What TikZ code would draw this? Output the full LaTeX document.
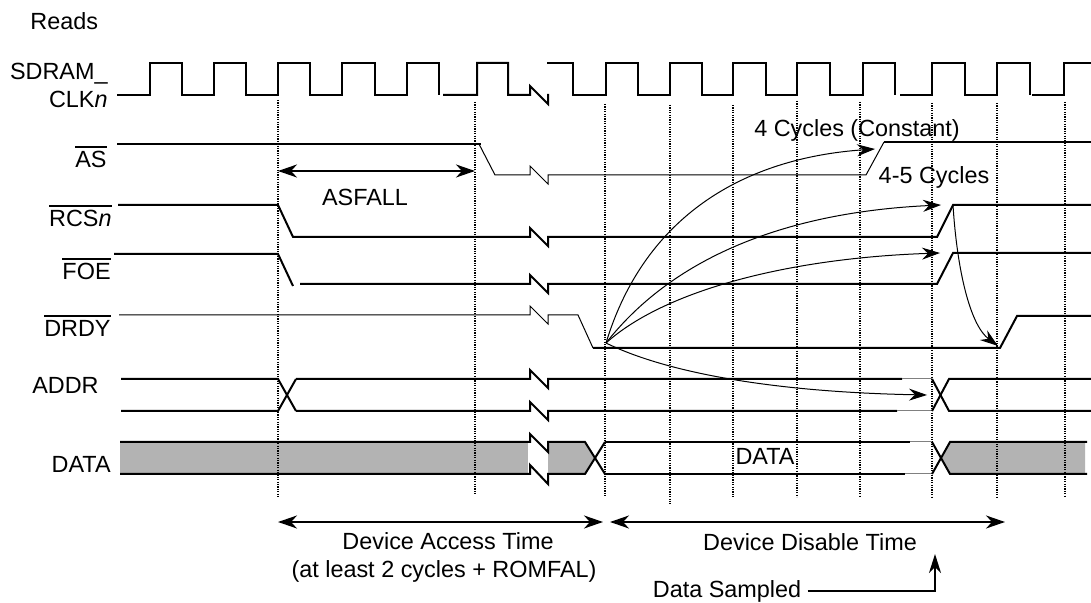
\documentclass[tikz,border=0pt]{standalone}
\usepackage{fontspec}
\setmainfont{Liberation Sans}
\usepackage{xcolor}
\usetikzlibrary{positioning,calc,arrows.meta}
\definecolor{busgray}{RGB}{179,179,179}
\newcommand{\sigbar}[1]{\setbox0=\hbox{#1}\rlap{\rule[\dimexpr\ht0+2pt\relax]{\wd0}{0.7pt}}\box0}

\tikzset{
  sig/.style={line width=1pt},
  thinsig/.style={line width=0.5pt},
  guide/.style={line width=0.7pt, dash pattern=on 0.6pt off 0.6pt},
  delay/.style={line width=0.5pt, -{Stealth[length=9pt,width=6pt,inset=3pt]}},
  timespan/.style={line width=1pt, {Stealth[length=9.5pt,width=6.5pt,inset=3pt]}-{Stealth[length=9.5pt,width=6.5pt,inset=3pt]}},
  lbl/.style={inner sep=0pt, font=\fontsize{11.7}{14}\selectfont},
}

\begin{document}
\begin{tikzpicture}[x=0.5pt,y=-0.5pt]
  \useasboundingbox (0,0) rectangle (1091,603);

  % grey data bus
  \fill[busgray] (120,442) rectangle (528,474);
  \fill[busgray] (548,442) -- (585,442) -- (594,458) -- (585,474) -- (548,474) -- cycle;
  \fill[busgray] (941,458) -- (950,442) -- (1085,442) -- (1085,474) -- (950,474) -- cycle;

  % clock edge markers
  \draw[guide] (278,100) -- (278,498);
  \draw[guide] (475,102) -- (475,494);
  \draw[guide] (605,104) -- (605,497);
  \draw[guide] (670,105) -- (670,504);
  \draw[guide] (733,105) -- (733,497);
  \draw[guide] (797,101) -- (797,497);
  \draw[guide] (860,102) -- (860,497);
  \draw[guide] (932,103) -- (932,497);
  \draw[guide] (997,103) -- (997,497);
  \draw[guide] (1065,102) -- (1065,497);

  % SDRAM_CLKn
  \draw[sig] (117,95) -- (150,95) -- (150,63) -- (182,63) -- (182,95) -- (214,95) -- (214,63) -- (246,63) -- (246,95)
    -- (278,95) -- (278,63) -- (310,63) -- (310,95) -- (342,95) -- (342,63) -- (375,63) -- (375,95) -- (407,95)
    -- (407,63) -- (439,63) -- (439,95);
  \draw[sig] (443,95) -- (477,95) -- (477,63) -- (508,63) -- (508,95) -- (530,95) -- (530,86) -- (548,104) -- (548,94);
  \draw[sig] (547,63) -- (573,63) -- (573,95) -- (606,95) -- (606,63) -- (638,63) -- (638,95) -- (670,95) -- (670,63)
    -- (702,63) -- (702,95) -- (733,95) -- (733,63) -- (766,63) -- (766,95) -- (797,95) -- (797,63) -- (830,63)
    -- (830,95) -- (863,95) -- (863,63) -- (895,63) -- (895,95);
  \draw[sig] (900,95) -- (932,95) -- (932,63) -- (965,63) -- (965,95) -- (997,95) -- (997,63) -- (1030,63) -- (1030,95);
  \draw[sig] (1032,95) -- (1064,95) -- (1064,63) -- (1091,63);

  % AS
  \draw[sig] (117,144) -- (481,144);
  \draw[thinsig] (479,144) -- (495,175) -- (530,175) -- (530,166) -- (548,184) -- (548,175) -- (866,175) -- (884,142);
  \draw[sig] (884,142) -- (1091,142);

  % RCSn
  \draw[sig] (118,205) -- (278,205) -- (293,237) -- (530,237) -- (530,228) -- (548,246) -- (548,237) -- (937,237)
    -- (953,205) -- (1091,205);

  % FOE
  \draw[sig] (114,254) -- (278,254) -- (293,286);
  \draw[sig] (300,284) -- (530,284) -- (530,275) -- (548,293) -- (548,284) -- (937,284) -- (953,253) -- (1091,253);

  % DRDY
  \draw[thinsig] (119,315) -- (530,315) -- (530,306) -- (548,324) -- (548,315) -- (578,315) -- (593,348);
  \draw[sig] (593,348) -- (1000,348) -- (1017,316) -- (1091,316);

  % ADDR
  \draw[sig] (121,379) -- (278,379) -- (296,411);
  \draw[sig] (121,411) -- (278,411) -- (296,379);
  \draw[sig] (296,379) -- (530,379) -- (530,370) -- (548,388) -- (548,379) -- (902,379);
  \draw[sig] (296,411) -- (530,411) -- (530,402) -- (548,420) -- (548,411) -- (897,411);
  \draw[thinsig, gray] (902,379) -- (932,379);
  \draw[thinsig, gray] (897,411) -- (932,411);
  \draw[sig] (932,379) -- (949,411) -- (1091,411);
  \draw[sig] (932,411) -- (949,379) -- (1091,379);

  % DATA
  \draw[sig] (120,442) -- (530,442) -- (530,434) -- (548,452) -- (548,442) -- (585,442) -- (605,474);
  \draw[sig] (120,474) -- (530,474) -- (530,465) -- (548,484) -- (548,474) -- (585,474) -- (605,442);
  \draw[sig] (605,442) -- (910,442);
  \draw[sig] (605,474) -- (905,474);
  \draw[thinsig, gray] (910,442) -- (932,442);
  \draw[thinsig, gray] (905,474) -- (932,474);
  \draw[sig] (932,442) -- (950,474) -- (1087,474);
  \draw[sig] (932,474) -- (950,442) -- (1087,442);

  % signal names
  \node[lbl, anchor=base west] (reads) at (30,30) {Reads};
  \node[lbl, anchor=base east] (clkname) at (108,80) {SDRAM\_};
  \node[lbl, anchor=base east] (clkn) at (108,108) {CLK\textit{n}};
  \node[lbl, anchor=base east] (asname) at (107,168) {\sigbar{AS}};
  \node[lbl, anchor=base east] (rcsname) at (112,227) {\sigbar{RCS\textit{n}}};
  \node[lbl, anchor=base east] (foename) at (111,280) {\sigbar{FOE}};
  \node[lbl, anchor=base east] (drdyname) at (111,337) {\sigbar{DRDY}};
  \node[lbl, anchor=base east] (addrname) at (99,394) {ADDR};
  \node[lbl, anchor=base east] (dataname) at (111,473) {DATA};
  \node[lbl, anchor=base] (datamid) at (765,465) {DATA};

  % ASFALL
  \coordinate (asfall-l) at (278,171);
  \coordinate (asfall-r) at (475,171);
  \draw[timespan] (asfall-l) -- (asfall-r);
  \node[lbl, anchor=base] (asfall) at (365,206) {ASFALL};

  % delays after DRDY
  \coordinate (drdyfall) at (606,343);
  \coordinate (asrise) at (875,149);
  \coordinate (rcsrise) at (941,205);
  \coordinate (foerise) at (940,253);
  \coordinate (addrx) at (927,395);
  \coordinate (rcstop) at (953,205);
  \coordinate (drdyrise) at (998,346);
  \draw[delay] (drdyfall) .. controls (645,215) and (745,158) .. (asrise);
  \draw[delay] (drdyfall) .. controls (675,255) and (790,212) .. (rcsrise);
  \draw[delay] (drdyfall) .. controls (665,290) and (790,258) .. (foerise);
  \draw[delay] (drdyfall) .. controls (665,372) and (770,392) .. (addrx);
  \draw[delay] (rcstop) .. controls (957,270) and (970,325) .. (drdyrise);
  \node[lbl, anchor=base] (fourcyc) at (857,137) {4 Cycles (Constant)};
  \node[lbl, anchor=base] (fivecyc) at (934,184) {4-5 Cycles};

  % access and disable times
  \coordinate (acc-l) at (278,522);
  \coordinate (acc-r) at (603,522);
  \coordinate (dis-l) at (610,522);
  \coordinate (dis-r) at (1005,522);
  \draw[timespan] (acc-l) -- (acc-r);
  \draw[timespan] (dis-l) -- (dis-r);
  \node[lbl, anchor=base] (acctime) at (448,549) {Device Access Time};
  \node[lbl, anchor=base] (accnote) at (444,577) {(at least 2 cycles + ROMFAL)};
  \node[lbl, anchor=base] (distime) at (810,550) {Device Disable Time};
  \node[lbl, anchor=base] (sampled) at (727,597) {Data Sampled};
  \coordinate (sampletip) at (935,554);
  \draw[line width=1pt, -{Stealth[length=9.5pt,width=6pt,inset=3pt]}] ([xshift=3pt]sampled.east) -| (sampletip);
\end{tikzpicture}
\end{document}
